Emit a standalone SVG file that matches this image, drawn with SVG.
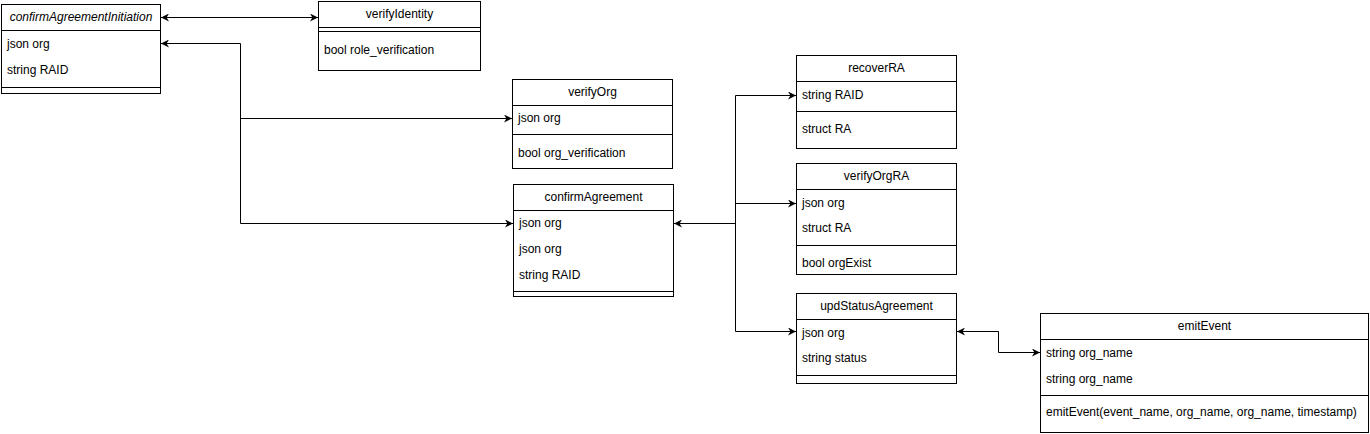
<svg xmlns="http://www.w3.org/2000/svg" width="1370" height="434" viewBox="0 0 1370 434">
<style>
.box{fill:#fff;stroke:#000;stroke-width:1}
.ln{stroke:#000;stroke-width:1;fill:none}
.t{font-family:"Liberation Sans",Arial,sans-serif;font-size:12px;fill:#000}
.h{text-anchor:middle}
.i{font-style:italic}
.c{stroke:#000;stroke-width:1;fill:none}
</style>
<defs>
<marker id="a" viewBox="0 0 10 10" refX="10" refY="5" markerWidth="8" markerHeight="8" markerUnits="userSpaceOnUse" orient="auto-start-reverse">
<path d="M0,0 L10,5 L0,10 L3,5 z" fill="#000"/>
</marker>
</defs>
<rect width="1370" height="434" fill="#fff"/>
<g id="confirmAgreementInitiation">
<rect class="box" x="1.5" y="4.5" width="159" height="89"/>
<line class="ln" x1="1.5" y1="30.5" x2="160.5" y2="30.5"/>
<line class="ln" x1="1.5" y1="87.5" x2="160.5" y2="87.5"/>
<text class="t h i" x="81" y="21">confirmAgreementInitiation</text>
<text class="t" x="7" y="48">json org</text>
<text class="t" x="7" y="74">string RAID</text>
</g>
<g id="verifyIdentity">
<rect class="box" x="318.5" y="1.5" width="162" height="69"/>
<line class="ln" x1="318.5" y1="27.5" x2="480.5" y2="27.5"/>
<line class="ln" x1="318.5" y1="31.5" x2="480.5" y2="31.5"/>
<text class="t h" x="399.5" y="18">verifyIdentity</text>
<text class="t" x="324" y="54">bool role_verification</text>
</g>
<g id="verifyOrg">
<rect class="box" x="512.5" y="79.5" width="160" height="89"/>
<line class="ln" x1="512.5" y1="105.5" x2="672.5" y2="105.5"/>
<line class="ln" x1="512.5" y1="134.5" x2="672.5" y2="134.5"/>
<text class="t h" x="592.5" y="96">verifyOrg</text>
<text class="t" x="518" y="122">json org</text>
<text class="t" x="518" y="157">bool org_verification</text>
</g>
<g id="confirmAgreement">
<rect class="box" x="513.5" y="184.5" width="160" height="112"/>
<line class="ln" x1="513.5" y1="210.5" x2="673.5" y2="210.5"/>
<line class="ln" x1="513.5" y1="291.5" x2="673.5" y2="291.5"/>
<text class="t h" x="593.5" y="201">confirmAgreement</text>
<text class="t" x="519" y="227">json org</text>
<text class="t" x="519" y="253">json org</text>
<text class="t" x="519" y="279">string RAID</text>
</g>
<g id="recoverRA">
<rect class="box" x="796.5" y="55.5" width="160" height="93"/>
<line class="ln" x1="796.5" y1="81.5" x2="956.5" y2="81.5"/>
<line class="ln" x1="796.5" y1="111.5" x2="956.5" y2="111.5"/>
<text class="t h" x="876.5" y="72">recoverRA</text>
<text class="t" x="802" y="99">string RAID</text>
<text class="t" x="802" y="133">struct RA</text>
</g>
<g id="verifyOrgRA">
<rect class="box" x="796.5" y="163.5" width="160" height="111"/>
<line class="ln" x1="796.5" y1="189.5" x2="956.5" y2="189.5"/>
<line class="ln" x1="796.5" y1="245.5" x2="956.5" y2="245.5"/>
<text class="t h" x="876.5" y="180">verifyOrgRA</text>
<text class="t" x="802" y="207">json org</text>
<text class="t" x="802" y="232">struct RA</text>
<text class="t" x="802" y="267">bool orgExist</text>
</g>
<g id="updStatusAgreement">
<rect class="box" x="796.5" y="293.5" width="160" height="90"/>
<line class="ln" x1="796.5" y1="319.5" x2="956.5" y2="319.5"/>
<line class="ln" x1="796.5" y1="375.5" x2="956.5" y2="375.5"/>
<text class="t h" x="876.5" y="310">updStatusAgreement</text>
<text class="t" x="802" y="337">json org</text>
<text class="t" x="802" y="362">string status</text>
</g>
<g id="emitEvent">
<rect class="box" x="1040.5" y="313.5" width="328" height="119"/>
<line class="ln" x1="1040.5" y1="339.5" x2="1368.5" y2="339.5"/>
<line class="ln" x1="1040.5" y1="395.5" x2="1368.5" y2="395.5"/>
<text class="t h" x="1204.5" y="330">emitEvent</text>
<text class="t" x="1046" y="357">string org_name</text>
<text class="t" x="1046" y="383">string org_name</text>
<text class="t" x="1046" y="416">emitEvent(event_name, org_name, org_name, timestamp)</text>
</g>
<g id="connectors">
<path class="c" d="M161,17.5 H318" marker-start="url(#a)" marker-end="url(#a)"/>
<path class="c" d="M161,43.5 H240.5 V223.5 H513" marker-start="url(#a)" marker-end="url(#a)"/>
<path class="c" d="M240.5,118.5 H512" marker-end="url(#a)"/>
<path class="c" d="M674,223.5 H735.5" marker-start="url(#a)"/>
<path class="c" d="M735.5,95.5 V331.5"/>
<path class="c" d="M735.5,95.5 H796" marker-end="url(#a)"/>
<path class="c" d="M735.5,203.5 H796" marker-end="url(#a)"/>
<path class="c" d="M735.5,331.5 H796" marker-end="url(#a)"/>
<path class="c" d="M957,331.5 H998.5 V352.5 H1040" marker-start="url(#a)" marker-end="url(#a)"/>
</g>
</svg>
